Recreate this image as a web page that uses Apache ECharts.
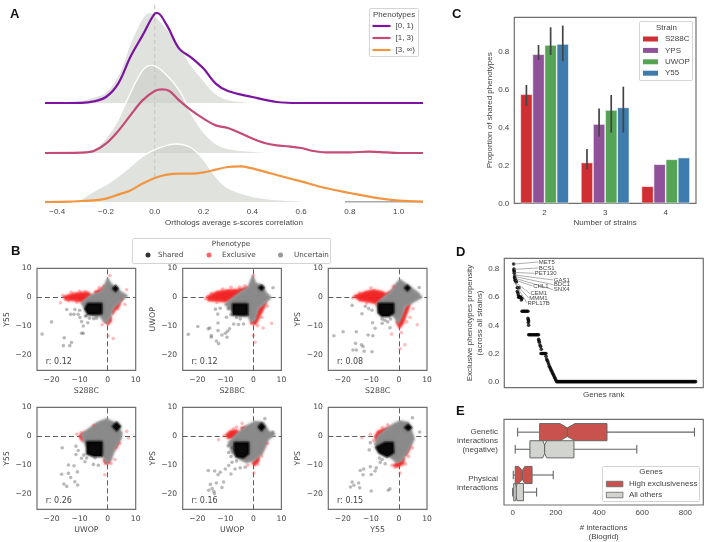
<!DOCTYPE html>
<html><head><meta charset="utf-8">
<style>html,body{margin:0;padding:0;background:#fff}#c{width:709px;height:542px;filter:blur(0.45px)}</style>
<script src="https://cdn.jsdelivr.net/npm/echarts@6/dist/echarts.min.js"></script>
</head><body><div id="c"></div>
<script>
// ---------- Panel A: densities as [score, density] ----------
const ridgePurple=[[-0.45,0],[-0.3,0.01],[-0.25,0.08],[-0.2,0.3],[-0.15,0.97],[-0.1,2.3],[-0.05,3.38],[0,4.47],[0.01,4.5],[0.05,3.88],[0.1,2.72],[0.15,2.27],[0.2,1.72],[0.25,0.97],[0.3,0.6],[0.4,0.3],[0.5,0.05],[0.6,0],[1.1,0]];
const ridgeMagenta=[[-0.45,0],[-0.3,0.02],[-0.25,0.1],[-0.2,0.47],[-0.15,1.1],[-0.1,1.88],[-0.05,2.63],[0,3.1],[0.03,3.18],[0.06,3.1],[0.1,2.63],[0.15,2.13],[0.2,1.72],[0.25,1.38],[0.3,1.25],[0.35,1],[0.4,0.72],[0.45,0.5],[0.5,0.38],[0.55,0.33],[0.6,0.25],[0.65,0.1],[0.7,0.03],[0.8,0.03],[0.88,0.07],[0.95,0.03],[1,0],[1.1,0]];
const ridgeOrange=[[-0.45,0],[-0.35,0.02],[-0.3,0.05],[-0.25,0.08],[-0.2,0.17],[-0.15,0.37],[-0.1,0.58],[-0.05,0.92],[0,1.2],[0.05,1.37],[0.1,1.42],[0.15,1.42],[0.2,1.48],[0.25,1.62],[0.3,1.75],[0.35,1.78],[0.4,1.68],[0.45,1.52],[0.5,1.35],[0.6,1.03],[0.7,0.7],[0.8,0.45],[0.9,0.22],[1,0.07],[1.1,0.02]];
const ridgeBack1=[[-0.4,0],[-0.35,0.03],[-0.3,0.13],[-0.25,0.3],[-0.2,0.55],[-0.15,1.38],[-0.1,2.97],[-0.05,4.25],[-0.02,4.52],[0,4.4],[0.05,3.7],[0.1,2.88],[0.15,1.88],[0.2,1.13],[0.25,0.47],[0.3,0.17],[0.4,0.03],[0.5,0]];
const ridgeBack2=[[-0.4,0],[-0.3,0.1],[-0.25,0.22],[-0.2,0.75],[-0.15,1.67],[-0.12,2.47],[-0.05,4.13],[-0.01,4.38],[0.05,3.88],[0.1,3.13],[0.15,1.97],[0.2,1.05],[0.25,0.47],[0.3,0.22],[0.4,0.08],[0.5,0]];
const ridgeBack3=[[-0.32,0],[-0.25,0.53],[-0.2,0.87],[-0.15,1.28],[-0.1,1.78],[-0.05,2.28],[0,2.62],[0.05,2.83],[0.09,2.9],[0.15,2.7],[0.2,2.12],[0.25,1.28],[0.3,0.7],[0.4,0.28],[0.5,0.12],[0.6,0.05],[0.7,0.02],[0.8,0]];
const ridgeAxisStub=[[0.78,0],[1.1,0]];
const ridgeTicks=[-0.4,-0.2,0,0.2,0.4,0.6,0.8,1.0];
// ---------- Panel C ----------
const strains=['S288C','YPS','UWOP','Y55'];
const strainCounts=['2','3','4'];
const propS288C=[0.575,0.215,0.09];
const propYPS=[0.786,0.418,0.206];
const propUWOP=[0.835,0.492,0.232];
const propY55=[0.84,0.506,0.241];
const errBars=[[0,0.515,0.624,0],[1,0.18,0.287,0],[0,0.756,0.835,1],[1,0.352,0.5,1],[0,0.782,0.928,2],[1,0.373,0.571,2],[0,0.75,0.937,3],[1,0.373,0.615,3]];
const propTicks=[0,0.2,0.4,0.6,0.8];
// ---------- Panel B: dense regions as outlines, sparse points individually ----------
const xNames=['S288C','S288C','S288C','UWOP','UWOP','Y55'];
const yNames=['Y55','UWOP','YPS','Y55','YPS','YPS'];
const rLabels=['r: 0.12','r: 0.12','r: 0.08','r: 0.26','r: 0.16','r: 0.15'];
const p1Uncertain=[[0,6.4],[1.2,4.5],[2.8,3.2],[5,1.6],[6.8,0.5],[5,-1],[3.2,-2.5],[1.8,-4],[1,-6.5],[-0.2,-8.8],[-1.5,-8],[-2.5,-6.5],[-4,-6.5],[-6,-6],[-8,-4],[-9.3,-2],[-7.5,-0.5],[-5.5,0.9],[-3,1.6],[-1.8,2.5],[-0.8,4.5]];
const p2Uncertain=[[-0.2,7.3],[0.6,5],[2.9,3.9],[4.5,1.5],[6.2,-0.1],[3.5,-2.4],[1.8,-3.5],[0.6,-7.5],[-0.6,-8.6],[-1.8,-6.4],[-4.7,-6.4],[-7,-5.2],[-10,-2.4],[-8.2,-1],[-4.7,1.6],[-1.8,3.3]];
const p3Uncertain=[[0.4,6],[2.7,4.3],[6.8,1.5],[8,0],[4.5,-1.9],[2.1,-3.1],[0.9,-6.5],[-0.2,-8.8],[-1.4,-7],[-3.2,-5.3],[-7.3,-4.2],[-7.9,-2.3],[-4.9,0.3],[-2.6,2],[-1.2,4.3]];
const p4Uncertain=[[-0.4,5.9],[2.6,4.5],[5,1.1],[4.6,-1.1],[2.6,-4],[1.2,-8],[-0.4,-9.1],[-2.1,-5.7],[-6,-5.7],[-8.1,-2.3],[-9.3,0.6],[-6.9,2.3],[-3.9,4.5]];
const p5Uncertain=[[0.6,5],[3.5,4.7],[5.3,1.8],[7.6,0.7],[5.3,-1],[2.9,-6.1],[0,-8.4],[-2.4,-9],[-4.7,-7.8],[-7.6,-5.6],[-8.8,-2.2],[-5.9,0.7],[-2.4,3.5]];
const p6Uncertain=[[0.4,5.2],[3.3,4.7],[4.8,0.7],[5.3,-1],[2.7,-5.6],[0.9,-8.4],[-0.8,-9],[-3.2,-7],[-6.7,-5.6],[-8.5,-2.7],[-7.3,0.1],[-4.4,2.4],[-2,4.1]];
const p1Shared=[[[-7,-2.2],[-2.2,-2.2],[-2.2,-5.6],[-4.2,-5.8],[-7,-5.8],[-8,-4]],[[2.8,3.9],[3.6,3],[2.8,2.2],[2,3]]];
const p2Shared=[[[-7.3,-2.4],[-2.1,-2.4],[-2.1,-6],[-7.3,-6]],[[2.9,4],[3.7,3.3],[2.9,2.6],[2.1,3.3]]];
const p3Shared=[[[-7.3,-2.2],[-2,-2.2],[-2,-5.3],[-3.5,-6.5],[-6,-6.5],[-7.3,-5.3]],[[3,4],[3.8,3.2],[3,2.4],[2.2,3.2]]];
const p4Shared=[[[-7.3,-2],[-2.1,-2],[-2.1,-6.8],[-5,-6.8],[-7.3,-6]],[[3.2,4.7],[4.5,3.4],[3.2,2.1],[1.9,3.4]]];
const p5Shared=[[[-6.7,-2.2],[-1.8,-2.2],[-1.8,-6],[-3.5,-7.3],[-6,-7],[-6.7,-5]],[[2.9,4.3],[3.9,3.2],[2.9,2.1],[1.9,3.2]]];
const p6Shared=[[[-4.9,-2.2],[-2.2,-2.2],[-2,-5.6],[-4.2,-7],[-7,-5.6],[-8.1,-3.9]],[[3.3,3.9],[4.4,3],[3.3,2.2],[2.2,3]]];
const p1Exclusive=[[[-15.5,0.2],[-12,1.2],[-9,1.6],[-7,1.6],[-6,0.8],[-7.5,-0.8],[-9,-1.5],[-12,-1],[-15,-0.8]],[[-4.5,1.8],[-2.2,2.8],[-1.2,4],[-1.2,2.4],[-2.8,1.1],[-4.3,0.9]],[[1.4,-5.2],[3.2,-2],[4.6,-1.4],[4,-3],[2.5,-4.5],[1.8,-5.6]],[[-1.2,-7],[1,-6.6],[1.2,-8],[0.2,-9.2],[-1,-8.4]]];
const p2Exclusive=[[[-16.5,0.1],[-13,1.8],[-9,2.4],[-5.5,2.6],[-2,3.4],[-1.5,2.6],[-4.7,1.2],[-7.5,-0.4],[-9.5,-1.5],[-12,-1.3],[-16,-1]],[[-0.8,-9],[0.8,-9.2],[2.2,-6.5],[4,-3],[4.5,-1.7],[2.8,-3],[1.4,-4.5],[-0.2,-6.6]]];
const p3Exclusive=[[[-15.9,0.4],[-12,1.8],[-9,2.4],[-6,1.8],[-4.5,0.9],[-6.5,-1.2],[-8.5,-2],[-11,-1.5],[-14,-1]],[[-4.8,1],[-2.5,2.2],[-1.2,3.8],[-1.5,2],[-3,0.7]],[[0.6,-6.5],[1.8,-4.5],[2.8,-2.5],[4,-1.5],[3.5,-3.5],[2.5,-6],[1.4,-9],[0.2,-10.5],[-0.8,-8.5]]];
const p4Exclusive=[[[-10,0.2],[-8,1.4],[-6.5,1],[-7.5,-0.7],[-9.5,-1]],[[-4.5,3.2],[-2,4.7],[-1.2,4],[-2.5,2.4],[-4,2]],[[1.6,-4],[2.8,-2.4],[3.8,-2.2],[3.2,-3.8],[2,-4.8]],[[-1.3,-8.2],[0.8,-7.8],[0.4,-9.2],[-0.8,-9.4]]];
const p5Exclusive=[[[-9.6,0.6],[-8,1.8],[-6,2],[-4.8,1],[-6.5,-0.4],[-9,-0.6]],[[-4.2,2.9],[-2.8,3.2],[-2.5,1.6],[-3.8,1.4]],[[1.6,-3.8],[3.2,-1.2],[4.3,-1.4],[4,-3.2],[2.8,-5.6],[1.8,-5.8]],[[-0.2,-9.2],[1.2,-7.5],[2,-7],[1.8,-8.5],[0.4,-10]]];
const p6Exclusive=[[[-8.5,-0.2],[-7.5,1.6],[-5.5,2.4],[-2.8,3.2],[-3,2.2],[-5,1.4],[-6.8,-0.3],[-8,-1.4]],[[1,-6.5],[2.2,-3.5],[3.8,-1.4],[4.2,-2.4],[3.6,-4.5],[2.5,-6.5]],[[-1.8,-10],[0.5,-8.5],[1.8,-7.5],[1.5,-9.5],[-0.6,-10.5]]];
const p1Points=[[-23.4,-12.7],[-20,-8.5],[-15.5,-14],[-15.8,-16.7],[-13.5,-16.7],[-12.9,-15.6],[-14.6,-4.2],[-13.2,-5.9],[-11.7,-4.2],[-10,-4.5],[-9.9,-7],[-9.3,-8.4],[-8.7,-9.9],[-9.3,-12.4],[-8.7,-12.4],[-7.1,-8.8],[-10.5,-5.9],[-12,-5.9],[-5,-7.4],[-6.5,-7.2],[-8,-6.5],[-4,-7.2],[-7.5,-6.4]];
const p2Points=[[-23.2,-12.8],[-19.8,-10.1],[-16.1,-10.9],[-15.5,-10.6],[-15,-13.8],[-15,-13.2],[-13.2,-15.1],[-12.4,-16],[-12.6,-11.5],[-11.2,-13],[-10,-12.4],[-9.4,-13.8],[-8.5,-10.9],[-9.2,-11.7],[-12.6,-8.9],[-13.5,-4.1],[-11.8,-3.8],[-12.7,-5.8],[-9.6,-6.9],[-7,-9.2],[-5.3,-9.4],[-3.5,-9.2],[-4.7,-7.5],[7,3.3],[-6,-7],[-8,-6],[-9,-4]];
const p3Points=[[-23.2,-13.3],[-19.9,-11.9],[-15.2,-11.9],[-16.7,-2.8],[-15.5,-15.9],[-16.4,-18.2],[-15.2,-18.2],[-13.4,-16.4],[-12.8,-17],[-12.4,-18.6],[-9.6,-18.8],[-11,-13],[-9.3,-13.3],[-8.5,-10.7],[-9.4,-8.8],[-13.2,-5.7],[-12,-3.1],[-10.8,-3.9],[-9.6,-4.5],[-3.2,-10.5],[7.2,3.4],[-6,-7.5],[-5,-8],[-6,-9],[-4,-8.5],[-3,-7.5]];
const p4Points=[[-16.2,-4],[-16.4,-13.1],[-14,-9.9],[-12,-10.2],[-10.8,-12.3],[-14,-12.8],[-13.2,-14.2],[-15.6,-16.5],[-14.6,-17.3],[-11.7,-15.7],[-10.7,-16.8],[-11.3,-3.4],[-10.5,-4.9],[-11.3,-6.3],[-9.3,-7.6],[-8.1,-8.8],[-5.1,-9.7],[-3.3,-10],[-4.5,-7.4],[-7.5,-7.5],[-8.5,-6.5]];
const p5Points=[[-16.1,-11.8],[-13.8,-12],[-12.6,-13.3],[-11.8,-12.4],[-8,-13],[-15.3,-16.6],[-13.2,-16.1],[-10.6,-15.8],[-14.7,-18],[-11.2,-17.7],[-15.9,-18.6],[-14.1,-19],[-13.9,-19.8],[-9,-3.3],[-8.8,-5.6],[-10,-11.3],[-8.8,-10.1],[-6.5,-11.3],[-4.7,-10.9],[-7.6,-9],[-2.9,-10.7],[7,1.5],[4.1,6.1],[-8,-7],[-6,-8.5],[-7.5,-4]];
const p6Points=[[-10.2,-2.2],[-10.6,-4.7],[-13.8,-11.8],[-12.6,-11.3],[-12.8,-13.3],[-10.2,-10.5],[-9.9,-13.2],[-8.1,-10.9],[-6.7,-9],[-8.5,-12],[-16.7,-15.8],[-14.4,-16.1],[-17.3,-17.5],[-16.1,-16.9],[-14,-17.8],[-9.9,-18.9],[-3.8,-18.6],[-3.2,-18.1],[-4.9,-9.5],[4.8,6.4],[7.4,1.5],[-7,-7.5],[-6,-8]];
const p1RedPoints=[[-16.8,-1.9],[0.2,-13.3],[2,-14.2],[0.8,7.5],[6.8,2.6],[6.2,-2.5],[-13,1.7],[-10,2.1],[5.2,-0.8],[-14,-1.2],[-11,-1.7],[-8,2],[-16,0.6],[-3,3.4],[3.6,-4],[-2,-9.5]];
const p2RedPoints=[[0,7.5],[3.5,-10.6],[6.5,-9],[0,-13.2],[0.6,-15.5],[-8,3.5],[-11,2.8],[5,-3],[-5,3.5],[-15,1.4],[-17,-0.5],[-13,-1.8],[3,-7],[-3,4],[1.5,-9.8]];
const p3RedPoints=[[6.5,-9.5],[2.1,-16.4],[0.4,-17.8],[-2.6,-12.7],[0.9,-12.2],[-10,3.3],[5,-4],[4,-7],[-14,1.5],[-11.5,-2],[-8,-2.6],[-16.5,-0.2],[-2,3.8],[2.8,-8.5]];
const p4RedPoints=[[7.4,-0.6],[6.8,1.7],[-1,-13.3],[2.6,-8],[-11,0.8],[-5,3.8],[-9.5,1.2],[-9,-1.6],[4.3,-2.4],[1.2,-9.4]];
const p5RedPoints=[[-12.4,-1.2],[0.2,-12.7],[-2,-10],[-4,4.5],[-6,3.2],[5,-2.5],[-10.5,0.2],[-7,2.6],[3,-6.8],[1.6,-9.6]];
const p6RedPoints=[[-10.2,0.7],[-13.2,-0.5],[0.4,-12.7],[-1.4,-10.7],[-9,-1.5],[-4,4],[4.8,-4],[3.5,-7],[-6,3],[-2.5,-10],[2.4,-9.6]];
const uncertainSets=[p1Uncertain,p2Uncertain,p3Uncertain,p4Uncertain,p5Uncertain,p6Uncertain];
const sharedSets=[p1Shared,p2Shared,p3Shared,p4Shared,p5Shared,p6Shared];
const exclusiveSets=[p1Exclusive,p2Exclusive,p3Exclusive,p4Exclusive,p5Exclusive,p6Exclusive];
const pointSets=[p1Points,p2Points,p3Points,p4Points,p5Points,p6Points];
const redSets=[p1RedPoints,p2RedPoints,p3RedPoints,p4RedPoints,p5RedPoints,p6RedPoints];
// ---------- Panel D ----------
const propensityPoints=[[1,0.835],[2,0.8],[2,0.79],[3,0.78],[3,0.77],[4,0.75],[4,0.74],[5,0.73],[6,0.72],[7,0.72],[8,0.71],[9,0.71],[12,0.667],[14,0.667],[17,0.667],[12,0.64],[14,0.63],[15,0.615],[16,0.6],[18,0.6],[20,0.6],[22,0.6],[24,0.58],[26,0.59],[44,0.45],[45,0.44],[46,0.43],[45,0.42],[46,0.4],[76,0.3],[77,0.29],[78,0.28],[80,0.26],[82,0.25],[84,0.23],[98,0.18],[100,0.16],[102,0.15],[104,0.14],[106,0.125],[108,0.11],[110,0.1],[112,0.09],[114,0.08],[116,0.07],[118,0.06],[120,0.05],[122,0.04],[124,0.03],[126,0.02],[128,0.01]];
const propensityRuns=[[26,46,0.5],[46,78,0.333],[83,98,0.2],[130,548,0]];
const geneLabels=[['MET5',2,0.835,75,0.85],['BCS1',2,0.798,75,0.807],['PET130',2,0.776,63,0.769],['GAS1',5,0.757,120,0.722],['BDC1',5,0.746,120,0.689],['SNX4',5,0.734,120,0.653],['CHL1',5,0.722,58,0.679],['CEM1',5,0.71,50,0.625],['MMM1',2,0.71,46,0.594],['RPL17B',2,0.71,41,0.559]];
// ---------- Panel E: [category, whiskerLow, Q1, notchLow, median, notchHigh, Q3, whiskerHigh] ----------
const interactionCats=['Genetic\ninteractions\n(negative)','Physical\ninteractions'];
const boxHigh=[[0,23,125,219,253,289,437,842],[1,3,12,28,45,56,90,188]];
const boxOthers=[[0,12,80,139,148,158,284,575],[1,0,5,14,17,20,50,111]];

const sans='"Liberation Sans",Arial,sans-serif', dejavu='"DejaVu Sans",sans-serif';
const ink='#444', frame='#6f6f6f';
const num1=v=>v.toFixed(1).replace('-','\u2212');
const num0=v=>String(v).replace('-','\u2212');
const grid=[],xAxis=[],yAxis=[],series=[],legend=[],graphic=[];
function addGrid(g,x,y){grid.push(g);const i=grid.length-1;xAxis.push(Object.assign({gridIndex:i,axisLine:{show:false},axisTick:{show:false},splitLine:{show:false}},x));yAxis.push(Object.assign({gridIndex:i,axisLine:{show:false},axisTick:{show:false},splitLine:{show:false}},y));return i;}
function gText(text,x,y,font,opt){graphic.push({type:'text',z:30,x,y,style:Object.assign({text,font,fill:ink,textVerticalAlign:'middle'},opt||{})});}
function gBox(x,y,w,h){graphic.push({type:'rect',z:10,shape:{x,y,width:w,height:h,r:1},style:{fill:'rgba(255,255,255,0.92)',stroke:'#d4d4d4',lineWidth:1}});}
function legendAt(name,icon,color,x,yc,iw,ih,font,border,pad,size){legend.push({show:true,z:20,left:x,top:yc-5,padding:0,itemGap:0,itemWidth:iw,itemHeight:ih,selectedMode:false,textStyle:{fontFamily:font,fontSize:size||8,color:ink,lineHeight:10,padding:[0,0,0,pad===undefined?-1:pad]},data:[{name,icon,itemStyle:Object.assign({color,borderWidth:0},border||{})}]});}

// Letters
[['A',10,14],['C',452,14],['B',11,251],['D',456,252],['E',456,411]].forEach(a=>graphic.push({type:'text',z:30,x:a[1],y:a[2],style:{text:a[0],font:'bold 13px '+sans,fill:'#111',textVerticalAlign:'middle'}}));

// ---- Panel A
const ridgeBases=[103,153,202];
const ridgeGrids=ridgeBases.map((b,i)=>addGrid({left:45,width:378,top:b-100,height:100},
 {type:'value',min:-0.45,max:1.1,show:i===2,axisLabel:{customValues:ridgeTicks,formatter:num1,fontFamily:sans,fontSize:8,color:ink,margin:6},name:i===2?'Orthologs average s-scores correlation':'',nameLocation:'middle',nameGap:17,nameTextStyle:{fontFamily:sans,fontSize:8,color:ink}},
 {type:'value',min:0,max:5,show:false}));
[ridgeBack1,ridgeBack2,ridgeBack3].forEach((d,i)=>series.push({type:'line',xAxisIndex:ridgeGrids[i],yAxisIndex:ridgeGrids[i],data:d,smooth:0.35,symbol:'none',z:2+i*0.1,lineStyle:{color:'rgba(255,255,255,0.95)',width:1.4},areaStyle:{color:'rgba(205,208,202,0.62)',opacity:1}}));
const vGrid=addGrid({left:45,width:378,top:5,height:172},{type:'value',min:-0.45,max:1.1,show:false},{type:'value',min:0,max:1,show:false});
series.push({type:'line',xAxisIndex:vGrid,yAxisIndex:vGrid,data:[[0,0],[0,1]],symbol:'none',z:3,lineStyle:{color:'#c4c4c4',width:1,type:[4,3]}});
series.push({type:'line',xAxisIndex:ridgeGrids[2],yAxisIndex:ridgeGrids[2],data:ridgeAxisStub,symbol:'none',z:3.5,lineStyle:{color:'#555',width:1.2}});
const ridgeColors=['#7b14a0','#c44a78','#f29540'];
const ridgeNames=['[0, 1)','[1, 3)','[3, \u221e)'];
[ridgePurple,ridgeMagenta,ridgeOrange].forEach((d,i)=>series.push({name:ridgeNames[i],type:'line',xAxisIndex:ridgeGrids[i],yAxisIndex:ridgeGrids[i],data:d,smooth:0.35,symbol:'none',z:4,lineStyle:{color:ridgeColors[i],width:2.2},itemStyle:{color:ridgeColors[i]}}));
gBox(369.5,8.5,49,48);
gText('Phenotypes',373,15,'8px '+sans);
ridgeNames.forEach((n,i)=>legendAt(n,'rect',ridgeColors[i],372.5,26+i*12,18,2.2,sans,null,0));

// ---- Panel C
const cGrid=addGrid({left:514.3,width:181.7,top:17.3,height:186,show:true,borderColor:frame,borderWidth:1.2},
 {type:'category',data:strainCounts,name:'Number of strains',nameLocation:'middle',nameGap:15,nameTextStyle:{fontFamily:sans,fontSize:8,color:ink},axisLabel:{fontFamily:sans,fontSize:8,color:ink,margin:5}},
 {type:'value',min:0,max:0.981,name:'Proportion of shared phenotypes',nameLocation:'middle',nameGap:20,nameTextStyle:{fontFamily:sans,fontSize:8,color:ink},axisLabel:{customValues:propTicks,formatter:num1,fontFamily:sans,fontSize:8,color:ink,margin:5}});
const strainColors=['#cf2f33','#8f5299','#55a354','#3f7cae'];
[propS288C,propYPS,propUWOP,propY55].forEach((d,i)=>series.push({name:strains[i],type:'bar',xAxisIndex:cGrid,yAxisIndex:cGrid,data:d,barGap:'0%',barCategoryGap:'20%',z:2,itemStyle:{color:strainColors[i],borderColor:'#fff',borderWidth:0.6}}));
series.push({type:'custom',xAxisIndex:cGrid,yAxisIndex:cGrid,z:5,data:errBars,encode:{x:0,y:[1,2]},renderItem:(p,api)=>{const band=api.size([1,0])[0];const dx=(api.value(3)-1.5)*0.2*band;const a=api.coord([api.value(0),api.value(1)]),b=api.coord([api.value(0),api.value(2)]);return{type:'line',shape:{x1:a[0]+dx,y1:a[1],x2:b[0]+dx,y2:b[1]},style:{stroke:'#444',lineWidth:1.7}};}});
gBox(639.5,21.5,53,59);
gText('Strain',656,28,'8px '+sans);
strains.forEach((n,i)=>legendAt(n,'rect',strainColors[i],643,39+i*11.4,15,5,sans,null,2));

// ---- Panel B
function polySeries(name,g,pts,fill,stroke,lw,z,soft){return{name,type:'custom',xAxisIndex:g,yAxisIndex:g,z,data:pts,encode:{x:0,y:1},clip:true,renderItem:(p,api)=>{if(p.dataIndex!==0)return null;return{type:'polygon',shape:{points:pts.map(q=>api.coord(q))},style:{fill,stroke,lineWidth:lw,lineJoin:'round',shadowBlur:3,shadowColor:soft}};}};}
const bLefts=[37,182.7,328.3],bTops=[268.3,407.3],bValues=[-20,-10,0,10];
for(let k=0;k<6;k++){
 const left=bLefts[k%3],top=bTops[k<3?0:1];
 const ax=(nm,gap,free)=>({type:'value',min:-25.2,max:10,name:nm,nameLocation:'middle',nameGap:gap,nameMoveOverlap:free,nameTextStyle:{fontFamily:dejavu,fontSize:7.8,color:ink},axisLabel:{customValues:bValues,formatter:num0,fontFamily:dejavu,fontSize:7.6,color:ink,margin:5.5}});
 const g=addGrid({left,top,width:98.7,height:102,show:true,borderColor:frame,borderWidth:1.2},ax(xNames[k],17,true),ax(yNames[k],26,false));
 series.push({type:'scatter',xAxisIndex:g,yAxisIndex:g,data:[],z:1,markLine:{silent:true,symbol:'none',label:{show:false},animation:false,z:1,lineStyle:{color:'#5c5c5c',type:[5,3],width:1},data:[{xAxis:0},{yAxis:0}]}});
 exclusiveSets[k].forEach(pts=>series.push(polySeries('Exclusive',g,pts,'rgba(240,30,30,0.9)','rgba(250,60,60,0.5)',2.5,2,'rgba(255,60,60,0.8)')));
 series.push(polySeries('Uncertain',g,uncertainSets[k],'#8a8a8a','rgba(150,150,150,0.45)',2.5,2.1,'rgba(150,150,150,0.8)'));
 sharedSets[k].forEach(pts=>series.push(polySeries('Shared',g,pts,'#0a0a0a','rgba(0,0,0,0.4)',3,2.2,'rgba(0,0,0,0.7)')));
 series.push({name:'Exclusive',type:'scatter',xAxisIndex:g,yAxisIndex:g,data:redSets[k],symbolSize:3.6,z:2.3,itemStyle:{color:'rgba(245,60,60,0.42)'}});
 series.push({name:'Shared',type:'scatter',xAxisIndex:g,yAxisIndex:g,data:pointSets[k],symbolSize:3.6,z:2.4,itemStyle:{color:'rgba(50,50,50,0.42)'}});
 gText(rLabels[k],left+8.7,top+93.5,'8px '+dejavu);
}
gBox(132.5,238.5,198,25);
gText('Phenotype',231,244,'7.2px '+dejavu,{textAlign:'center'});
[['Shared','#333',145.5,2.5],['Exclusive','#f8656a',206.5,5.5],['Uncertain','#999',278,6]].forEach(a=>legendAt(a[0],'circle',a[1],a[2],255,5,5,dejavu,null,a[3],7.2));

// ---- Panel D
const dGrid=addGrid({left:504.3,width:199,top:258.3,height:129.4,show:true,borderColor:frame,borderWidth:1.2},
 {type:'value',min:-27,max:570,axisLabel:{show:false},name:'Genes rank',nameLocation:'middle',nameGap:3,nameTextStyle:{fontFamily:sans,fontSize:8,color:ink}},
 {type:'value',min:-0.043,max:0.876,axisLabel:{customValues:[0,0.2,0.4,0.6,0.8],formatter:num1,fontFamily:sans,fontSize:8,color:ink,margin:5},name:'Exclusive phenotypes propensity\n(across all strains)',nameLocation:'middle',nameGap:16,nameTextStyle:{fontFamily:sans,fontSize:8,color:ink,lineHeight:9.5}});
const dData=propensityPoints.slice();
propensityRuns.forEach(r=>{for(let x=r[0];x<=r[1];x+=3)dData.push([x,r[2]]);});
series.push({type:'scatter',xAxisIndex:dGrid,yAxisIndex:dGrid,data:dData,symbolSize:3.6,z:3,itemStyle:{color:'#050505'}});
series.push({type:'custom',xAxisIndex:dGrid,yAxisIndex:dGrid,z:4,data:geneLabels.map(l=>l.slice(1)),encode:{x:[0,2],y:[1,3]},renderItem:(p,api)=>{const a=api.coord([api.value(0),api.value(1)]),b=api.coord([api.value(2),api.value(3)]);return{type:'group',children:[{type:'line',shape:{x1:a[0],y1:a[1],x2:b[0],y2:b[1]},style:{stroke:'#777',lineWidth:0.6}},{type:'text',x:b[0]+0.5,y:b[1],style:{text:geneLabels[p.dataIndex][0],font:'6px '+sans,fill:'#444',textVerticalAlign:'middle'}}]};}});

// ---- Panel E
const eGrid=addGrid({left:504,width:199.3,top:419.3,height:87.4,show:true,borderColor:frame,borderWidth:1.2},
 {type:'value',min:-40,max:883,axisLabel:{customValues:[0,200,400,600,800],fontFamily:sans,fontSize:8,color:ink,margin:4},name:'# interactions\n(Biogrid)',nameLocation:'middle',nameGap:18,nameTextStyle:{fontFamily:sans,fontSize:8,color:ink,lineHeight:9,verticalAlign:'top'}},
 {type:'category',inverse:true,data:interactionCats,axisLabel:{fontFamily:sans,fontSize:8,color:ink,margin:6,lineHeight:8.7,align:'right'}});
function boxRender(side,fill){return(p,api)=>{const band=Math.abs(api.size([0,1])[1]);const c=api.coord([0,api.value(0)])[1]+side*0.2*band;const h=0.2*band,d=h*0.5;const X=i=>api.coord([api.value(i),0])[0];const st={stroke:'#666',lineWidth:1.1};const [wl,q1,nl,md,nh,q3,wh]=[1,2,3,4,5,6,7].map(X);
 return{type:'group',children:[
  {type:'line',shape:{x1:wl,y1:c,x2:q1,y2:c},style:st},{type:'line',shape:{x1:q3,y1:c,x2:wh,y2:c},style:st},
  {type:'line',shape:{x1:wl,y1:c-h/2,x2:wl,y2:c+h/2},style:st},{type:'line',shape:{x1:wh,y1:c-h/2,x2:wh,y2:c+h/2},style:st},
  {type:'polygon',shape:{points:[[q1,c-h],[nl,c-h],[md,c-h+d],[nh,c-h],[q3,c-h],[q3,c+h],[nh,c+h],[md,c+h-d],[nl,c+h],[q1,c+h]]},style:{fill,stroke:'#666',lineWidth:1}},
  {type:'line',shape:{x1:md,y1:c-h+d,x2:md,y2:c+h-d},style:st}]};};}
const boxNames=['High exclusiveness','All others'],boxColors=['#c9534c','#d2d4d0'];
[boxHigh,boxOthers].forEach((d,i)=>series.push({name:boxNames[i],type:'custom',xAxisIndex:eGrid,yAxisIndex:eGrid,z:3,data:d,encode:{x:[1,2,3,4,5,6,7],y:0},itemStyle:{color:boxColors[i]},renderItem:boxRender(i===0?-1:1,boxColors[i])}));
gBox(602.5,466.5,97,35);
gText('Genes',651,472,'8px '+sans,{textAlign:'center'});
boxNames.forEach((n,i)=>legendAt(n,'rect',boxColors[i],606,484+i*11,16.5,5.5,sans,{borderColor:'#666',borderWidth:0.8},1));

const chart=echarts.init(document.getElementById('c'),null,{renderer:'canvas',width:709,height:542});
chart.setOption({animation:false,backgroundColor:'#fff',grid,xAxis,yAxis,series,legend,graphic});
</script></body></html>
